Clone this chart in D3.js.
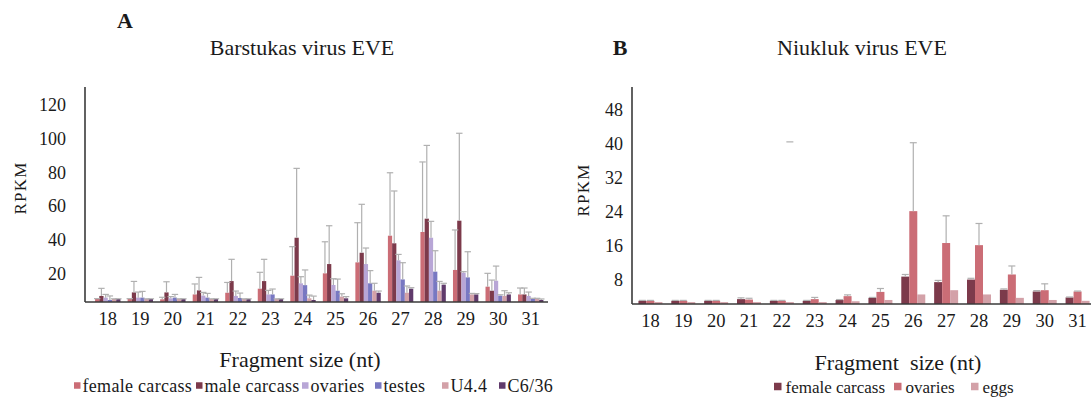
<!DOCTYPE html>
<html><head><meta charset="utf-8">
<script src="https://cdn.jsdelivr.net/npm/d3@7"></script>
<style>
body{margin:0;background:#fff}
svg{display:block}
text{font-family:"Liberation Serif","Times New Roman",serif;fill:#1a1a1a}
</style>
</head><body>
<svg id="chart" width="1091" height="401"></svg>
<script>
// ---------------- DATA ----------------
const categories = ["18","19","20","21","22","23","24","25","26","27","28","29","30","31"];

// Panel A: Barstukas virus EVE
const seriesA = ["female carcass","male carcass","ovaries","testes","U4.4","C6/36"];
const aFemaleCarcass    = [4.9,4.9,4.7,7.6,8.6,11.0,18.7,20.1,26.6,42.4,44.6,22.1,12.2,7.6];
const aFemaleCarcassErr = [0.2,0.2,1.2,6.2,6.1,9.7,17.2,18.7,23.5,37.3,41.5,23.7,7.9,3.8];
const aMaleCarcass      = [6.7,8.8,8.8,10.0,15.5,15.5,41.2,25.6,32.3,37.9,52.5,51.3,9.8,7.6];
const aMaleCarcassErr   = [4.5,6.5,6.3,7.7,12.9,12.9,41.1,22.7,28.7,31.0,43.4,51.8,6.3,3.8];
const aOvaries          = [5.7,5.7,5.3,6.9,6.7,7.6,14.2,13.2,25.6,27.8,41.2,20.5,15.7,6.7];
const aOvariesErr       = [1.9,3.3,1.0,1.9,2.9,2.4,3.9,3.7,9.5,3.5,9.7,0.6,8.7,2.3];
const aTestes           = [4.3,5.7,5.7,5.7,5.5,7.6,13.1,9.8,14.2,16.5,21.1,17.7,6.9,4.9];
const aTestesErr        = [2.4,3.7,1.9,2.5,2.9,3.2,9.0,6.9,7.5,9.9,12.4,15.2,0.5,0.4];
const aU44              = [4.9,4.9,4.9,4.9,4.9,4.9,5.3,6.3,9.8,8.6,9.8,7.6,6.7,4.9];
const aU44Err           = [0.1,0.1,0.1,0.1,0.1,0.1,1.9,1.7,4.4,4.0,5.5,0.6,3.1,0.4];
const aC636             = [4.9,4.9,4.9,4.9,4.9,4.9,4.3,5.3,8.6,11.0,13.4,7.6,7.6,4.3];
const aC636Err          = [0.1,0.1,0.1,0.1,0.1,0.1,2.3,1.0,1.0,0.6,0.8,0.5,1.0,0.6];
const yTicksA = [20,40,60,80,100,120];

// Panel B: Niukluk virus EVE
const seriesB = ["female carcass","ovaries","eggs"];
const bFemaleCarcass    = [3.1,3.1,3.1,3.5,3.1,3.1,3.3,3.8,8.8,7.5,8.1,5.7,5.3,3.9];
const bFemaleCarcassErr = [0.1,0.1,0.1,0.3,0.1,0.1,0.1,0.1,0.5,0.4,0.3,0.2,0.2,0.1];
const bOvaries          = [3.1,3.1,3.1,3.4,3.1,3.5,4.2,5.2,24.2,16.7,16.2,9.3,5.6,5.3];
const bOvariesErr       = [0.1,0.1,0.1,0.3,0.1,0.4,0.3,0.8,16.1,6.4,5.1,2.0,1.5,0.1];
const bEggs             = [2.8,2.8,2.8,2.8,2.8,2.8,3.0,3.3,4.6,5.6,4.6,3.8,3.3,3.1];
const bEggsErr          = [0,0,0,0,0,0,0,0,0,0,0,0,0,0];
const yTicksB = [8,16,24,32,40,48];
// stray error cap visible in panel B (category 22, eggs, at ~40.5)
const strayCapB = {category:"22", series:"eggs", value:40.5};

// ---------------- STYLE ----------------
const colorsA = ["#cb6d76","#7c3a4b","#b8a6d6","#7878c2","#d3a1a8","#603a6b"];
const colorsB = ["#7c3a4b","#cb6d76","#d3a1a8"];
const errColor = "#b0b0b0";
const axisColor = "#3a3a3a";

const svg = d3.select("#chart");

function drawPanel(cfg){
  const g = svg.append("g");
  const x0 = d3.scaleBand().domain(categories).range(cfg.xRange).paddingInner(cfg.padInner).paddingOuter(cfg.padInner/2);
  const x1 = d3.scaleBand().domain(cfg.series).range([0, x0.bandwidth()]);
  const y = cfg.y;
  const base = cfg.axisY;

  cfg.series.forEach((s, si) => {
    const vals = cfg.values[si], errs = cfg.errs[si];
    const rows = categories.map((c,i)=>({c, v:vals[i], e:errs[i]}));
    g.append("g").selectAll("rect").data(rows).join("rect")
      .attr("x", d => x0(d.c) + x1(s))
      .attr("y", d => y(d.v))
      .attr("width", x1.bandwidth())
      .attr("height", d => Math.max(0, base - y(d.v)))
      .attr("fill", cfg.colors[si]);
  });
  cfg.series.forEach((s, si) => {
    const vals = cfg.values[si], errs = cfg.errs[si];
    const rows = categories.map((c,i)=>({c, v:vals[i], e:errs[i]})).filter(d=>d.e>0);
    const eg = g.append("g").attr("stroke", errColor).attr("stroke-width", 1.2);
    eg.selectAll("line.v").data(rows).join("line").attr("class","v")
      .attr("x1", d => x0(d.c) + x1(s) + x1.bandwidth()/2)
      .attr("x2", d => x0(d.c) + x1(s) + x1.bandwidth()/2)
      .attr("y1", d => y(d.v)).attr("y2", d => y(d.v + d.e));
    eg.selectAll("line.c").data(rows).join("line").attr("class","c")
      .attr("x1", d => x0(d.c) + x1(s) + x1.bandwidth()/2 - cfg.cap)
      .attr("x2", d => x0(d.c) + x1(s) + x1.bandwidth()/2 + cfg.cap)
      .attr("y1", d => y(d.v + d.e)).attr("y2", d => y(d.v + d.e));
  });
  if (cfg.stray){
    const cx = x0(cfg.stray.category) + x1(cfg.stray.series) + x1.bandwidth()/2;
    g.append("line").attr("stroke", errColor).attr("stroke-width",1.2)
      .attr("x1", cx - cfg.cap).attr("x2", cx + cfg.cap)
      .attr("y1", y(cfg.stray.value)).attr("y2", y(cfg.stray.value));
  }

  // axes lines
  g.append("line").attr("x1", cfg.axisX).attr("x2", cfg.axisX).attr("y1", cfg.axisTop).attr("y2", base)
    .attr("stroke", axisColor).attr("stroke-width", 1.6);
  g.append("line").attr("x1", cfg.axisX).attr("x2", cfg.xAxisEnd).attr("y1", base).attr("y2", base)
    .attr("stroke", axisColor).attr("stroke-width", 1.6);

  // y tick labels
  const ya = g.append("g").attr("transform", `translate(${cfg.axisX},0)`)
    .call(d3.axisLeft(y).tickValues(cfg.yTicks).tickSize(0).tickPadding(cfg.yPad).tickFormat(d3.format("d")));
  ya.select(".domain").remove();
  ya.selectAll("text").attr("font-size", 18).attr("font-family", "Liberation Serif").attr("fill","#1a1a1a");

  // x tick labels
  const xa = g.append("g").attr("transform", `translate(0,${base})`)
    .call(d3.axisBottom(x0).tickSize(0).tickPadding(10));
  xa.select(".domain").remove();
  xa.selectAll("text").attr("font-size", 18.5).attr("font-family", "Liberation Serif").attr("fill","#1a1a1a");

  // titles
  g.append("text").attr("x", cfg.titleX).attr("y", 55).attr("text-anchor","middle").attr("font-size", 22).text(cfg.title);
  g.append("text").attr("x", cfg.letterX).attr("y", cfg.letterY).attr("text-anchor","middle")
    .attr("font-size", 22).attr("font-weight","bold").text(cfg.letter);
  g.append("text").attr("transform", `translate(${cfg.yTitleX},${cfg.yTitleY}) rotate(-90)`)
    .attr("text-anchor","middle").attr("font-size", 17).attr("letter-spacing", 1.2).text("RPKM");
  g.append("text").attr("x", cfg.xTitleX).attr("y", cfg.xTitleY).attr("text-anchor","middle")
    .attr("font-size", 22).attr("xml:space","preserve").text(cfg.xTitle);

  // legend
  const lg = g.append("g");
  cfg.series.forEach((s, si) => {
    const lx = cfg.legendX[si];
    lg.append("rect").attr("x", lx).attr("y", cfg.legendY - cfg.legSq/2 - 0.5).attr("width", cfg.legSq).attr("height", cfg.legSq)
      .attr("fill", cfg.colors[si]);
    lg.append("text").attr("x", lx + cfg.legSq + cfg.legGap).attr("y", cfg.legendY + 5.5)
      .attr("font-size", cfg.legFont).attr("letter-spacing", cfg.legLS).text(s);
  });
}

drawPanel({
  series: seriesA, colors: colorsA,
  values: [aFemaleCarcass, aMaleCarcass, aOvaries, aTestes, aU44, aC636],
  errs: [aFemaleCarcassErr, aMaleCarcassErr, aOvariesErr, aTestesErr, aU44Err, aC636Err],
  y: d3.scaleLinear().domain([0,120]).range([307.25, 307.25 - 120*1.6875]),
  yTicks: yTicksA, yPad: 19,
  xRange: [91.5, 547], padInner: 0.22, cap: 3.2,
  axisX: 85, axisY: 302, axisTop: 87, xAxisEnd: 548,
  title: "Barstukas virus EVE", titleX: 302, letter: "A", letterX: 125, letterY: 28,
  yTitleX: 26, yTitleY: 188,
  xTitle: "Fragment size (nt)", xTitleX: 300, xTitleY: 367,
  legendX: [74,196,302,375,442,499], legendY: 386, legSq: 6.5, legGap: 2, legFont: 18, legLS: 0.3
});

drawPanel({
  series: seriesB, colors: colorsB,
  values: [bFemaleCarcass, bOvaries, bEggs],
  errs: [bFemaleCarcassErr, bOvariesErr, bEggsErr],
  y: d3.scaleLinear().domain([0,48]).range([314, 314 - 48*4.25]),
  yTicks: yTicksB, yPad: 9,
  xRange: [634, 1094], padInner: 0.27, cap: 3.5,
  axisX: 632, axisY: 304, axisTop: 87, xAxisEnd: 1091,
  stray: strayCapB,
  title: "Niukluk virus EVE", titleX: 862, letter: "B", letterX: 620, letterY: 55,
  yTitleX: 589, yTitleY: 190,
  xTitle: "Fragment  size (nt)", xTitleX: 898, xTitleY: 370,
  legendX: [774, 894, 971], legendY: 387, legSq: 7.5, legGap: 4, legFont: 17, legLS: 0
});
</script>
</body></html>
